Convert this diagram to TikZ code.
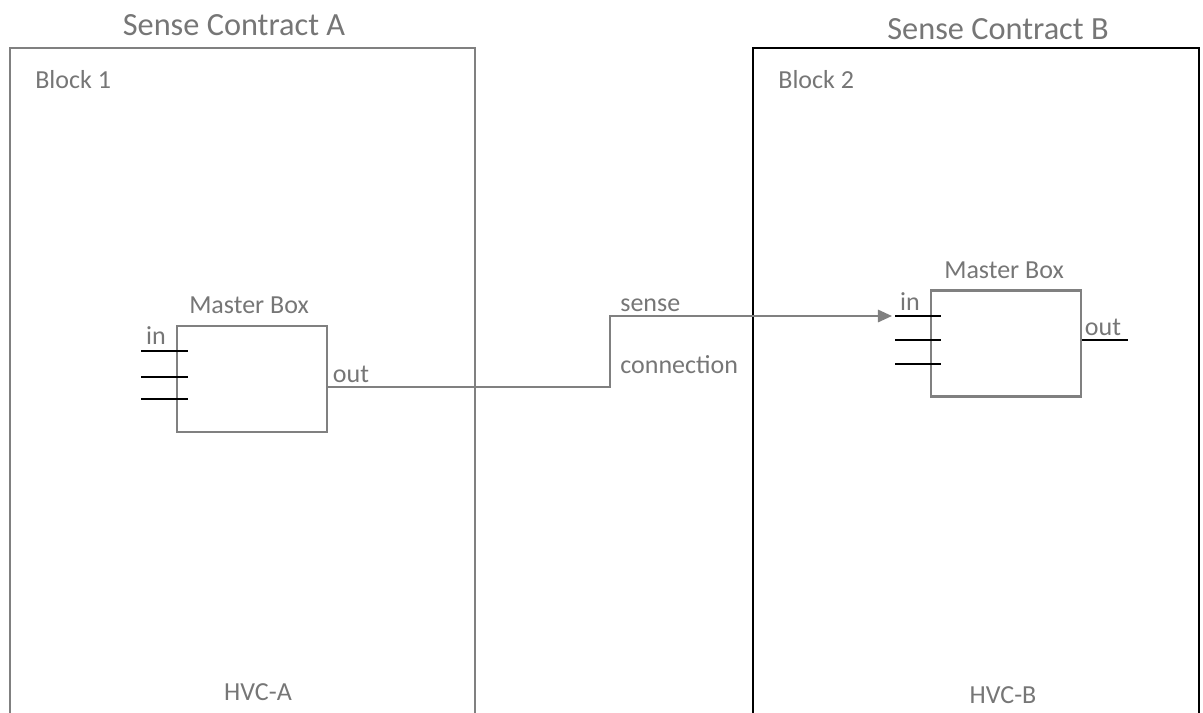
\documentclass[tikz,border=0pt]{standalone}
\usepackage{fontspec}
\setmainfont{Carlito}
\usepackage{tikz}
\usetikzlibrary{arrows.meta}
\definecolor{txtgray}{RGB}{118,118,118}
\definecolor{linegray}{RGB}{128,128,128}

\begin{document}
\begin{tikzpicture}[x=0.02cm,y=-0.02cm,
  lbl/.style={text=txtgray,inner sep=0pt,font=\fontsize{14.8}{17}\selectfont},
  title/.style={text=txtgray,inner sep=0pt,font=\fontsize{18.4}{21}\selectfont},
  mbox/.style={draw=linegray,line width=1.25pt,minimum width=3cm,minimum height=2.12cm,inner sep=0pt},
  stub/.style={black,line width=0.7pt},
  conn/.style={linegray,line width=1.25pt}]
\useasboundingbox (0,0) rectangle (1203,713);

% Contract A
\node[title] (titleA) at (234,25) {Sense Contract A};
\draw[linegray, line width=1.25pt] (10,713) -- (10,48) -- (475,48) -- (475,713);
\node[lbl, anchor=west] (blockA) at (35,80) {Block 1};
\node[lbl] (hvcA) at (258,692) {HVC-A};

% Contract B
\node[title] (titleB) at (998,29) {Sense Contract B};
\draw[black, line width=1.4pt] (753,713) -- (753,48) -- (1199,48) -- (1199,713);
\node[lbl, anchor=west] (blockB) at (778,80) {Block 2};
\node[lbl] (hvcB) at (1003,695) {HVC-B};

% Master box A
\node[mbox] (mbA) at (252,379) {};
\node[lbl] (mbAname) at (249,305) {Master Box};
\node[lbl] (inA) at (156,336) {in};
\node[lbl] (outA) at (351,374) {out};
\foreach \y in {351,377,399}
  \draw[stub] (141,\y) -- (188,\y);

% Master box B
\node[mbox] (mbB) at (1006,343.5) {};
\node[lbl] (mbBname) at (1004,270) {Master Box};
\node[lbl] (inB) at (910,302) {in};
\node[lbl] (outB) at (1103,327) {out};
\foreach \y in {316,340,364}
  \draw[stub] (895,\y) -- (941,\y);
\draw[stub] (mbB.east |- 0,340) -- (1128,340);

% Sense connection
\coordinate (srcA) at (327,387);
\coordinate (turn) at (610,387);
\coordinate (tipB) at (892,316);
\draw[conn, -{Triangle[length=8pt,width=7pt]}] (srcA) -- (turn) |- (tipB);
\node[lbl, anchor=west] (sense) at (620,305) {sense};
\node[lbl, anchor=west] (connect) at (620,365) {connection};
\end{tikzpicture}
\end{document}
